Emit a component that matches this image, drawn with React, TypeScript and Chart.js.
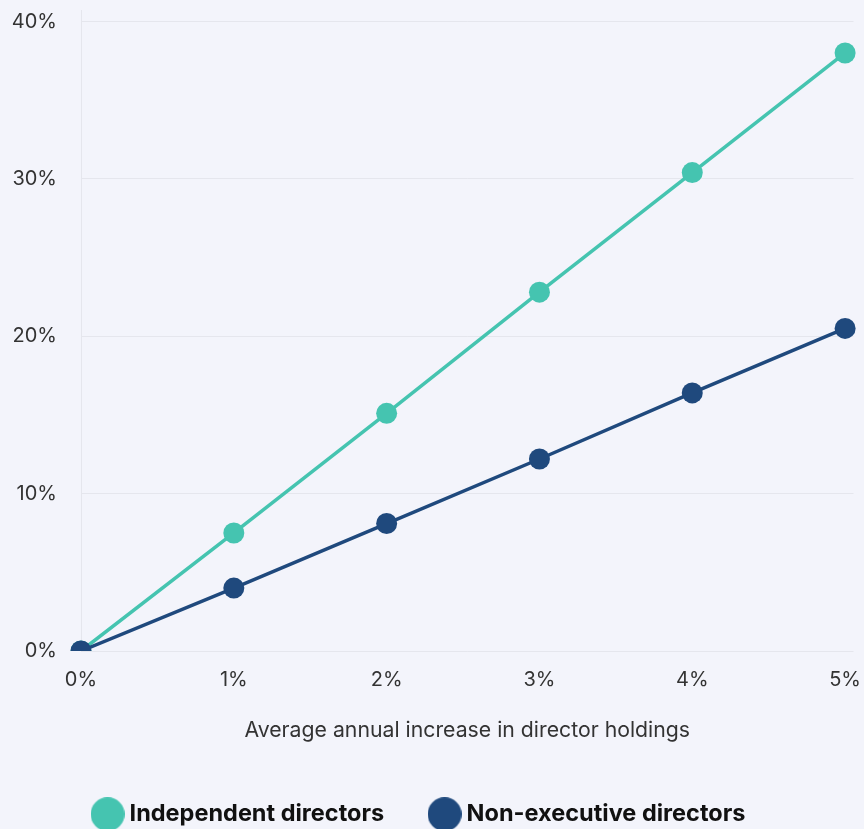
import React, { useEffect, useRef } from "react";
import { Chart, registerables } from "chart.js";

Chart.register(...registerables);

const xValues = [0, 1, 2, 3, 4, 5];
const independentValues = [0, 7.5, 15.1, 22.8, 30.4, 38.0];
const nonExecutiveValues = [0, 4.0, 8.1, 12.2, 16.4, 20.5];
const seriesLabels = ["Independent directors", "Non-executive directors"];
const xTitle = "Average annual increase in director holdings";

const TEAL = "#45C4B0";
const NAVY = "#1F497D";
const BG = "#F3F4FB";
const FONT = "Inter, 'Noto Sans', sans-serif";

const CANVAS_W = 864;
const CANVAS_H = 836;

function makeDot(color: string, d: number) {
  const c = document.createElement("canvas");
  c.width = d;
  c.height = d;
  const ctx = c.getContext("2d")!;
  ctx.fillStyle = color;
  ctx.beginPath();
  ctx.arc(d / 2, d / 2, d / 2, 0, Math.PI * 2);
  ctx.fill();
  return c;
}

const zeroPadding = (scale: any) => {
  scale.paddingLeft = 0;
  scale.paddingRight = 0;
  scale.paddingTop = 0;
  scale.paddingBottom = 0;
};

export default function App() {
  const ref = useRef<HTMLCanvasElement>(null);

  useEffect(() => {
    document.body.style.margin = "0";
    document.body.style.background = BG;
    const dots = [makeDot(TEAL, 34), makeDot(NAVY, 34)];
    const chart = new Chart(ref.current!, {
      type: "line",
      data: {
        datasets: [
          {
            label: seriesLabels[0],
            data: xValues.map((x, i) => ({ x, y: independentValues[i] })),
            borderColor: TEAL,
            backgroundColor: TEAL,
            pointBackgroundColor: TEAL,
            pointBorderWidth: 0,
            pointRadius: 10.5,
            borderWidth: 3.5,
            order: 2,
            clip: { left: false, right: false, top: false, bottom: 0 } as any,
          },
          {
            label: seriesLabels[1],
            data: xValues.map((x, i) => ({ x, y: nonExecutiveValues[i] })),
            borderColor: NAVY,
            backgroundColor: NAVY,
            pointBackgroundColor: NAVY,
            pointBorderWidth: 0,
            pointRadius: 10.5,
            borderWidth: 3.5,
            order: 1,
            clip: { left: false, right: false, top: false, bottom: 0 } as any,
          },
        ],
      },
      options: {
        animation: false,
        responsive: false,
        layout: { padding: { left: -14.25, right: 7, top: 9, bottom: 0 } },
        scales: {
          x: {
            type: "linear",
            min: 0,
            max: 5.055,
            grid: { display: false, drawTicks: false },
            border: { display: false },
            ticks: {
              stepSize: 1,
              includeBounds: false,
              padding: 17,
              color: "#333333",
              font: { family: FONT, size: 20 },
              callback: (v: any) => v + "%",
            },
            title: {
              display: true,
              text: xTitle,
              color: "#333333",
              font: { family: FONT, size: 21.25 },
              padding: { top: 0, bottom: 8.75 },
            },
            afterFit: (scale: any) => {
              scale.height = 101.35;
              zeroPadding(scale);
            },
          },
          y: {
            type: "linear",
            min: 0,
            max: 40.7,
            grid: { color: "rgba(0,0,0,0.055)", drawTicks: false, lineWidth: 1 },
            border: { display: true, color: "rgba(0,0,0,0.055)" },
            ticks: {
              stepSize: 10,
              includeBounds: false,
              padding: 24,
              color: "#333333",
              font: { family: FONT, size: 20 },
              callback: (v: any) => v + "%",
            },
            afterFit: (scale: any) => {
              scale.width = 95.25;
              zeroPadding(scale);
            },
          },
        },
        plugins: {
          tooltip: { enabled: false },
          legend: {
            position: "bottom",
            labels: {
              usePointStyle: true,
              pointStyleWidth: 20.5,
              padding: 50.15,
              color: "#111111",
              font: { family: FONT, size: 23.5, weight: "bold" },
              sort: (a: any, b: any) => a.datasetIndex - b.datasetIndex,
              generateLabels: (ch: any) => {
                const items = Chart.defaults.plugins.legend.labels.generateLabels(ch);
                return items.map((it: any) => ({ ...it, pointStyle: dots[it.datasetIndex] }));
              },
            },
          },
        },
      },
    } as any);
    return () => chart.destroy();
  }, []);

  return (
    <div style={{ position: "fixed", left: 0, top: 0, width: CANVAS_W, height: 829, overflow: "hidden", background: BG }}>
      <canvas ref={ref} width={CANVAS_W} height={CANVAS_H} style={{ display: "block", width: CANVAS_W, height: CANVAS_H }} />
    </div>
  );
}
